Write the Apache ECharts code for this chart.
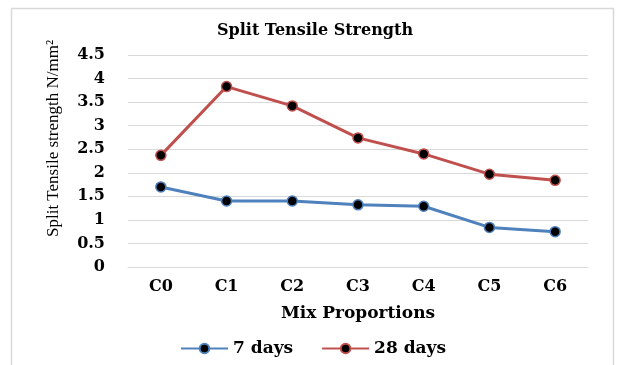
<!DOCTYPE html>
<html><head><meta charset="utf-8">
<script src="https://cdn.jsdelivr.net/npm/echarts@6/dist/echarts.min.js"></script>
<style>html,body{margin:0;padding:0;background:#fff}#c{width:619px;height:365px}</style>
</head><body><div id="c"></div>
<script>
const categories = ['C0','C1','C2','C3','C4','C5','C6'];
const days7 = [1.70, 1.40, 1.40, 1.32, 1.29, 0.84, 0.75];
const days28 = [2.37, 3.83, 3.42, 2.74, 2.40, 1.97, 1.84];
const seriesNames = ['7 days', '28 days'];
const serif = '"Liberation Serif", "DejaVu Serif", serif';
const wide = '"DejaVu Serif", "Liberation Serif", serif';
const chart = echarts.init(document.getElementById('c'), null, {renderer:'canvas'});
function mk(name, data, color){
  return {
    name, type:'line', data,
    symbol:'circle', symbolSize:10,
    lineStyle:{color, width:3},
    itemStyle:{color:'#000', borderColor:color, borderWidth:1.5},
    emphasis:{disabled:true}, animation:false
  };
}
chart.setOption({
  animation:false,
  graphic:[{type:'rect', shape:{x:11.5, y:8.5, width:602, height:370}, style:{fill:'none', stroke:'#d9d9d9', lineWidth:1.5}, silent:true, z:-1}],
  title:{text:'Split Tensile Strength', left:212, top:18,
    textStyle:{fontFamily:wide, fontWeight:'bold', fontSize:16, color:'#000'}},
  grid:{left:128, right:31, top:55, bottom:98},
  legend:{left:175, top:335, itemWidth:47, itemHeight:12, itemGap:28,
    textStyle:{fontFamily:wide, fontWeight:'bold', fontSize:17, color:'#000'},
    data:seriesNames},
  xAxis:{type:'category', data:categories, boundaryGap:true,
    name:'Mix Proportions', nameLocation:'middle', nameGap:38,
    nameTextStyle:{fontFamily:wide, fontWeight:'bold', fontSize:17, color:'#000'},
    axisLine:{show:true, lineStyle:{color:'#d9d9d9'}}, axisTick:{show:false},
    axisLabel:{fontFamily:wide, fontWeight:'bold', fontSize:16, color:'#000', margin:12}},
  yAxis:{type:'value', min:0, max:4.5, interval:0.5,
    name:'Split Tensile strength N/mm²', nameLocation:'middle', nameGap:66,
    nameTextStyle:{fontFamily:serif, fontSize:17, color:'#000', padding:[0,0,0,45]},
    axisLine:{show:false}, axisTick:{show:false},
    splitLine:{lineStyle:{color:'#d9d9d9', width:1.2}},
    axisLabel:{fontFamily:wide, fontWeight:'bold', fontSize:16, color:'#000', margin:23}},
  series:[mk(seriesNames[0], days7, '#4F81BD'), mk(seriesNames[1], days28, '#C0504D')]
});
</script></body></html>
